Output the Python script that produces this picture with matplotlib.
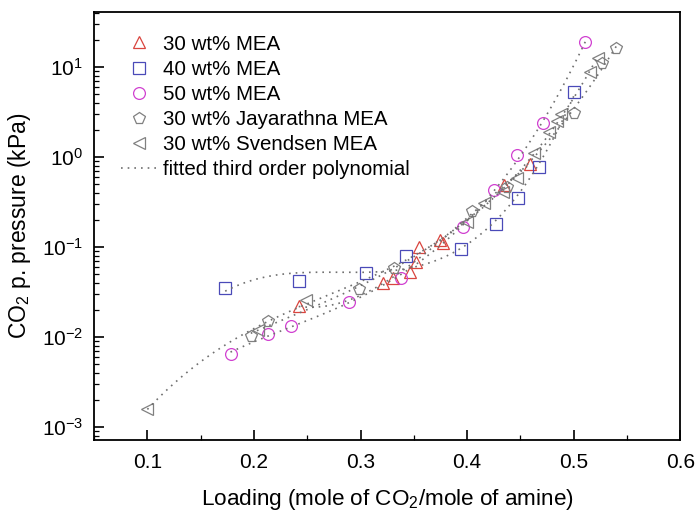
import numpy as np
import matplotlib
matplotlib.use("Agg")
import matplotlib.pyplot as plt

plt.rcParams['font.family'] = ['Liberation Sans', 'DejaVu Sans']
plt.rcParams['mathtext.fontset'] = 'custom'
plt.rcParams['mathtext.rm'] = 'Liberation Sans'

# 30 wt% MEA
x30 = [0.242, 0.321, 0.330, 0.346, 0.352, 0.355, 0.375, 0.377, 0.435, 0.459]
p30 = [0.022, 0.040, 0.045, 0.053, 0.069, 0.100, 0.120, 0.110, 0.49, 0.84]
# 40 wt% MEA
x40 = [0.173, 0.242, 0.305, 0.343, 0.394, 0.427, 0.448, 0.467, 0.500]
p40 = [0.035, 0.042, 0.052, 0.079, 0.095, 0.18, 0.35, 0.78, 5.3]
# 50 wt% MEA
x50 = [0.178, 0.213, 0.235, 0.289, 0.338, 0.396, 0.425, 0.447, 0.471, 0.511]
p50 = [0.0065, 0.011, 0.0133, 0.0245, 0.046, 0.167, 0.43, 1.05, 2.37, 18.8]
# Jayarathna
xjay = [0.197, 0.213, 0.299, 0.331, 0.405, 0.437, 0.500, 0.527, 0.540]
pjay = [0.0102, 0.015, 0.034, 0.058, 0.25, 0.47, 3.06, 11.0, 16.4]
# Svendsen
xsv = [0.100, 0.204, 0.249, 0.400, 0.416, 0.434, 0.447, 0.463, 0.477, 0.484, 0.488, 0.515, 0.523]
psv = [0.0016, 0.012, 0.026, 0.19, 0.31, 0.41, 0.58, 1.1, 1.9, 2.5, 2.98, 8.9, 12.6]

series = [
    (x30, p30, '^', '#d9453f', '30 wt% MEA'),
    (x40, p40, 's', '#4a4ab8', '40 wt% MEA'),
    (x50, p50, 'o', '#d040d0', '50 wt% MEA'),
    (xjay, pjay, 'p', '#808080', '30 wt% Jayarathna MEA'),
    (xsv, psv, '<', '#808080', '30 wt% Svendsen MEA'),
]

fig = plt.figure(figsize=(6.97, 5.16), dpi=100)
ax = fig.add_axes([0.135, 0.147, 0.841, 0.830])

for x, p, m, c, lab in series:
    ax.plot(x, p, linestyle='none', marker=m, markersize=8.5, markerfacecolor='none',
            markeredgecolor=c, markeredgewidth=0.9, label=lab)

fit_line = None
for x, p, m, c, lab in series:
    coef = np.polyfit(x, np.log10(p), 3)
    xf = np.linspace(min(x), max(x), 200)
    fit_line, = ax.plot(xf, 10 ** np.polyval(coef, xf), linestyle=(0, (1, 3)),
                        color='#707070', linewidth=1.2)
fit_line.set_label('fitted third order polynomial')

ax.set_yscale('log')
ax.set_xlim(0.05, 0.6)
ax.set_ylim(7.2e-4, 41)
ax.set_xticks([0.1, 0.2, 0.3, 0.4, 0.5, 0.6])
ax.set_xticks(np.arange(0.05, 0.6, 0.05), minor=True)
ax.set_xticklabels(['0.1', '0.2', '0.3', '0.4', '0.5', '0.6'])
ax.tick_params(which='both', direction='in', top=False, right=False, labelsize=15)
ax.tick_params(which='major', length=7, width=1.2)
ax.tick_params(which='minor', length=3.5, width=0.9)
ax.tick_params(axis='x', pad=9)
ax.tick_params(axis='y', pad=8)
for s in ax.spines.values():
    s.set_linewidth(1.3)

ax.set_xlabel('Loading (mole of CO$_2$/mole of amine)', fontsize=16.2, labelpad=11)
ax.set_ylabel('CO$_2$ p. pressure (kPa)', fontsize=16.5, labelpad=6)

ax.legend(loc='upper left', bbox_to_anchor=(0.032, 0.966), frameon=False,
          fontsize=14.8, handlelength=1.7, handletextpad=0.35, labelspacing=0.3,
          borderaxespad=0)

fig.savefig('out.png', dpi=100)
